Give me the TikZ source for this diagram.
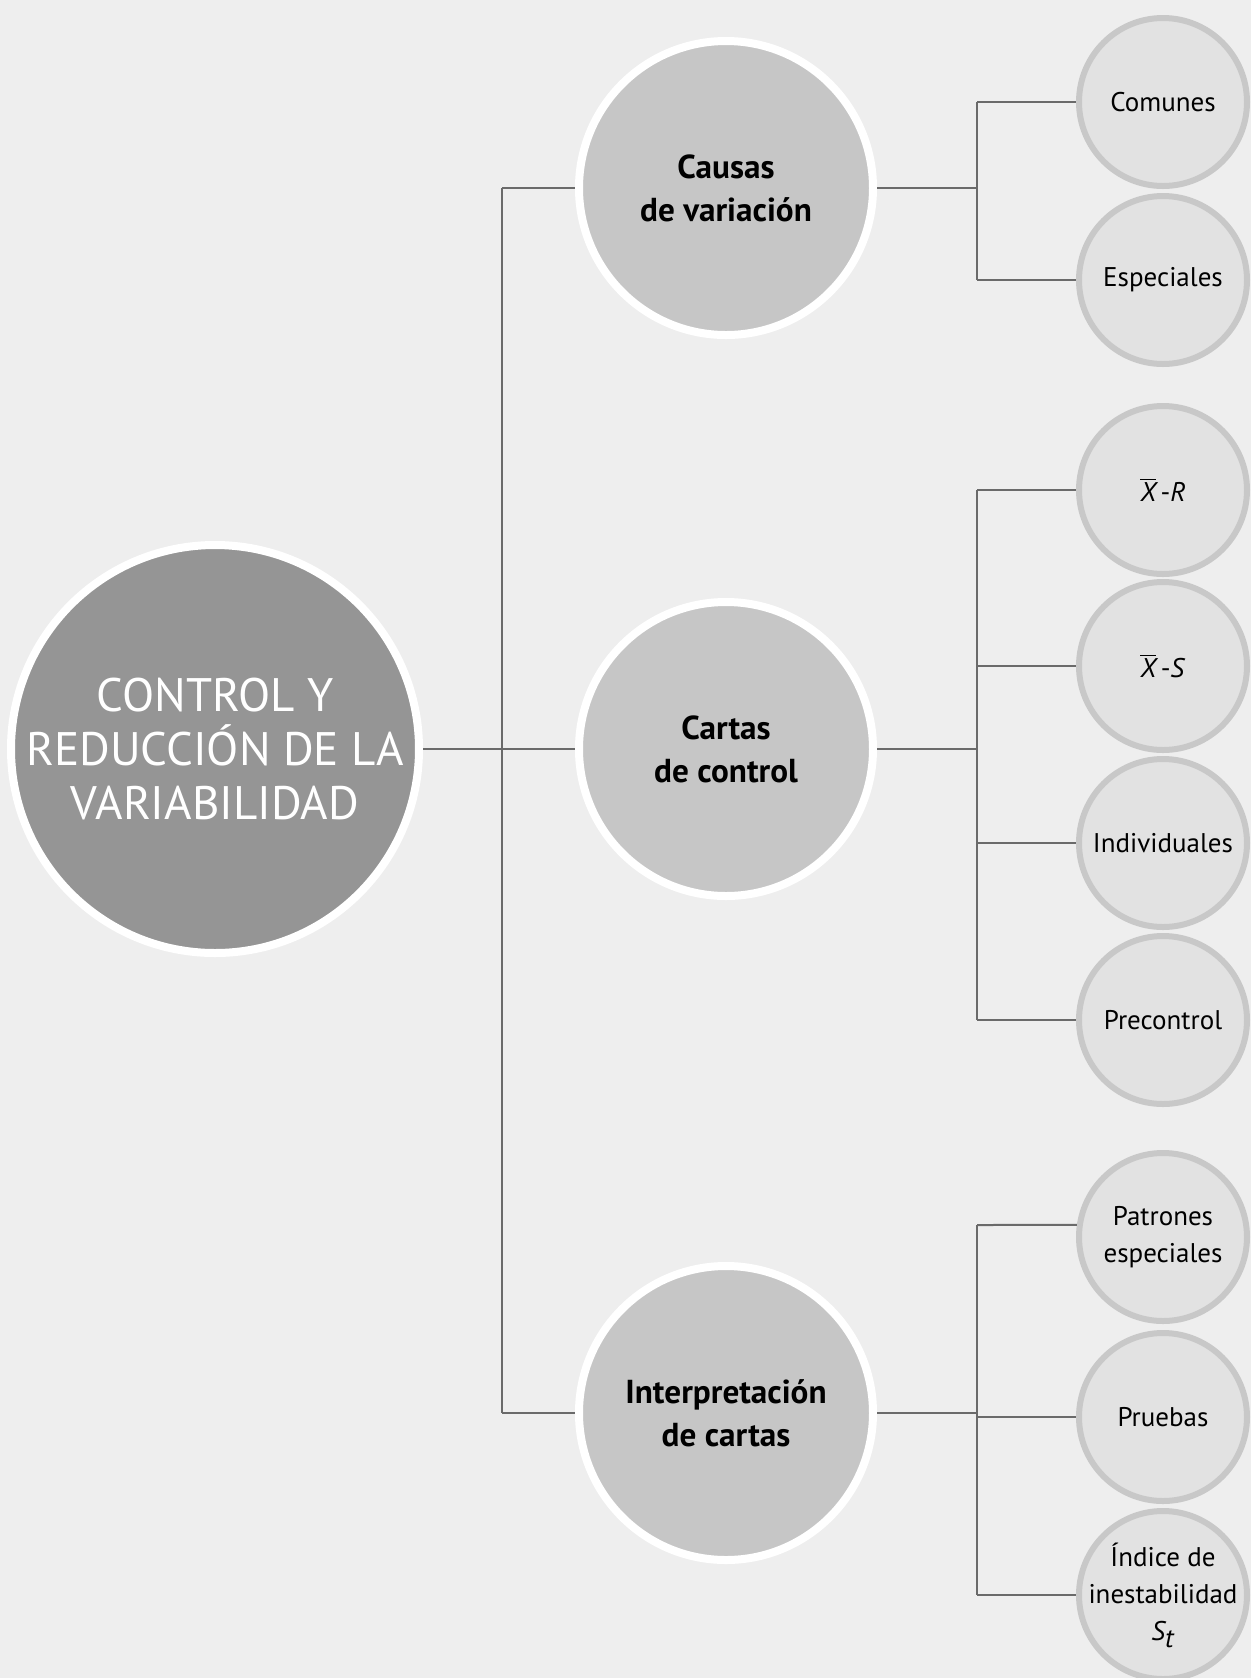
\documentclass[tikz,border=0pt]{standalone}
\usepackage{fontspec}
\setmainfont{PT Sans}
\definecolor{bg}{HTML}{EEEEEE}
\definecolor{maincol}{HTML}{959595}
\definecolor{midcol}{HTML}{C6C6C6}
\definecolor{leafcol}{HTML}{E2E2E2}
\definecolor{leafedge}{HTML}{C8C8C8}
\definecolor{linecol}{HTML}{6A6A6A}
\begin{document}
\begin{tikzpicture}[x=0.5pt,y=-0.5pt,
  mainbox/.style={circle,fill=maincol,draw=white,line width=4pt,minimum size=204pt,inner sep=0pt,align=center,text=white,font=\fontsize{23.5}{27}\selectfont},
  midbox/.style={circle,fill=midcol,draw=white,line width=4pt,minimum size=147pt,inner sep=0pt,align=center,text=black,font=\fontsize{16.6}{21.5}\selectfont\bfseries},
  leafbox/.style={circle,fill=leafcol,draw=leafedge,line width=3pt,minimum size=84pt,inner sep=0pt,align=center,text=black,font=\fontsize{13.5}{18.5}\selectfont},
  leaftext/.style={inner sep=0pt,align=center,text=black,font=\fontsize{13.5}{18.5}\selectfont},
  conn/.style={draw=linecol,line width=1pt}]
\fill[bg] (0,0) rectangle (1251,1678);
\useasboundingbox (0,0) rectangle (1251,1678);
\node[mainbox] (main) at (215,749) {CONTROL Y\\REDUCCIÓN DE LA\\VARIABILIDAD};
\node[midbox] (causas) at (726,188) {Causas\\de variación};
\node[midbox] (cartas) at (726,749) {Cartas\\de control};
\node[midbox] (interp) at (726,1413) {Interpretación\\de cartas};
\node[leafbox] (comunes) at (1163,102) {Comunes};
\node[leafbox] (especiales) at (1163,280) {Especiales};
\node[leafbox] (xr) at (1163,490) {$\overline{\textit{X}}$\,-\textit{R}};
\node[leafbox] (xs) at (1163,666) {$\overline{\textit{X}}$\,-\textit{S}};
\node[leafbox] (indiv) at (1163,843) {Individuales};
\node[leafbox] (precon) at (1163,1020) {Precontrol};
\node[leafbox] (patrones) at (1163,1237) {Patrones\\especiales};
\node[leafbox] (pruebas) at (1163,1417) {Pruebas};
\node[leafbox] (indice) at (1163,1595) {};
\node[leaftext] (indicetxt) at (indice.center) {Índice de\\inestabilidad\\$\textit{S}_{\textit{t}}$};
% main bus
\coordinate (bt) at (502,188);
\coordinate (bb) at (502,1413);
\draw[conn] (main.east) -- (cartas.west);
\draw[conn] (bt) -- (bb);
\draw[conn] (bt) -- (causas.west);
\draw[conn] (bb) -- (interp.west);
% leaf buses
\coordinate (c1) at (977,102);
\coordinate (c2) at (977,280);
\coordinate (c0) at (977,188);
\draw[conn] (causas.east) -- (c0);
\draw[conn] (c1) -- (c2);
\draw[conn] (c1) -- (comunes.west);
\draw[conn] (c2) -- (especiales.west);
\coordinate (d1) at (977,490);
\coordinate (d2) at (977,666);
\coordinate (d3) at (977,843);
\coordinate (d4) at (977,1020);
\coordinate (d0) at (977,749);
\draw[conn] (cartas.east) -- (d0);
\draw[conn] (d1) -- (d4);
\draw[conn] (d1) -- (xr.west);
\draw[conn] (d2) -- (xs.west);
\draw[conn] (d3) -- (indiv.west);
\draw[conn] (d4) -- (precon.west);
\coordinate (e1) at (977,1225);
\coordinate (e2) at (977,1417);
\coordinate (e3) at (977,1595);
\coordinate (e0) at (977,1413);
\draw[conn] (interp.east) -- (e0);
\draw[conn] (e1) -- (e3);
\draw[conn] (e1) -- (patrones.172);
\draw[conn] (e2) -- (pruebas.west);
\draw[conn] (e3) -- (indice.west);
\end{tikzpicture}
\end{document}
